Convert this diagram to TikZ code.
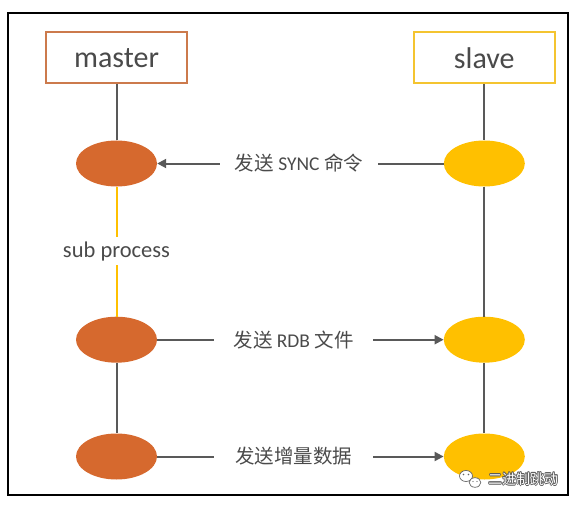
\documentclass[tikz,border=0pt]{standalone}
\usepackage{fontspec}
\setmainfont{Carlito}
\newfontfamily\cjk{Noto Sans CJK SC}
\usetikzlibrary{arrows.meta}
\definecolor{orangeM}{HTML}{D6692E}
\definecolor{yellowS}{HTML}{FFC000}
\definecolor{mborder}{HTML}{CC7A4C}
\definecolor{sborder}{HTML}{F4C430}
\definecolor{lineG}{HTML}{595959}
\definecolor{textG}{HTML}{4A4A4A}
\tikzset{
  box/.style={draw, line width=1.8pt, minimum width=141pt, minimum height=51pt, inner sep=0pt, text=textG, font=\fontsize{30}{32}\selectfont},
  ell/.style={ellipse, draw=none, minimum width=81pt, minimum height=46pt, inner sep=0pt},
  conn/.style={draw=lineG, line width=2pt},
  tip/.style={-{Triangle[length=9pt,width=9pt]}},
  lbl/.style={inner sep=0pt, minimum height=20pt, text=textG, font=\fontsize{19.5}{21}\selectfont},
  wm/.style={inner sep=0pt, font=\cjk\fontsize{14}{15}\selectfont}
}
\usetikzlibrary{shapes.geometric}
\begin{document}
\begin{tikzpicture}[x=1pt,y=-1pt]
\useasboundingbox (0,0) rectangle (577,505);
\draw[line width=2pt] (8,13.5) rectangle (568,494.5);

\node[box, draw=mborder] (master) at (116.5,57.7) {master};
\node[box, draw=sborder] (slave) at (484.3,57.7) {slave};

\node[ell, fill=orangeM] (m1) at (116.5,163.5) {};
\node[ell, fill=orangeM] (m2) at (116.5,339.7) {};
\node[ell, fill=orangeM] (m3) at (116.5,456.5) {};
\node[ell, fill=yellowS] (s1) at (484.3,163.5) {};
\node[ell, fill=yellowS] (s2) at (484.3,339.7) {};
\node[ell, fill=yellowS] (s3) at (484.3,456.5) {};

\node[inner sep=0pt, minimum height=28pt, text=textG, font=\fontsize{22.5}{24}\selectfont] (sp) at (116.5,251) {sub process};

\node[lbl, minimum width=158pt] (l1) at (299,163.5) {{\cjk 发送} SYNC {\cjk 命令}};
\node[lbl, minimum width=159pt] (l2) at (293.5,339.7) {{\cjk 发送} RDB {\cjk 文件}};
\node[lbl, minimum width=159pt] (l3) at (293.5,456.5) {\cjk 发送增量数据};

% vertical lines
\draw[conn] (master) -- (m1);
\draw[draw=yellowS, line width=2pt] (m1) -- (sp);
\draw[draw=yellowS, line width=2pt] (sp) -- (m2);
\draw[conn] (m2) -- (m3);
\draw[conn] (slave) -- (s1);
\draw[conn] (s1) -- (s2);
\draw[conn] (s2) -- (s3);

% horizontal connectors
\draw[conn, tip] (l1) -- (m1);
\draw[conn] (s1) -- (l1);
\draw[conn] (m2) -- (l2);
\draw[conn, tip] (l2) -- (s2);
\draw[conn] (m3) -- (l3);
\draw[conn, tip] (l3) -- (s3);

% watermark
\begin{scope}[draw=gray!80!black, line width=0.7pt, fill=white]
  \filldraw (466,476) ellipse [x radius=6.5, y radius=5.5];
  \filldraw (475,482.5) ellipse [x radius=5.8, y radius=4.8];
  \fill[gray!80!black] (463.5,474.5) circle (0.9) (468.5,474.5) circle (0.9);
  \fill[gray!80!black] (473,481.5) circle (0.7) (477,481.5) circle (0.7);
\end{scope}
\foreach \dx/\dy in {-0.7/0,0.7/0,0/-0.7,0/0.7,-0.5/-0.5,0.5/0.5,-0.5/0.5,0.5/-0.5}
  \node[wm, text=gray!70!black, xshift=\dx pt, yshift=\dy pt] at (523,479) {二进制跳动};
\node[wm, text=white] (wmark) at (523,479) {二进制跳动};
\end{tikzpicture}
\end{document}
